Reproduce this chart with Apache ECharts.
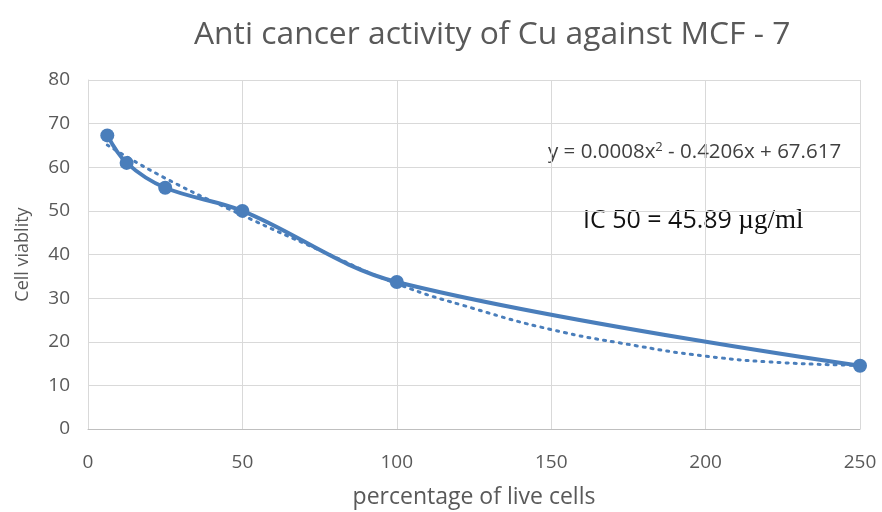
<!DOCTYPE html>
<html>
<head>
<meta charset="utf-8">
<script src="https://cdn.jsdelivr.net/npm/echarts@6/dist/echarts.min.js"></script>
<style>html,body{margin:0;padding:0;background:#fff}#c{width:882px;height:512px}</style>
</head>
<body>
<div id="c"></div>
<script>
const concentrations = [6.25, 12.5, 25, 50, 100, 250];
const viability = [67.3, 61, 55.3, 50, 33.7, 14.5];
const trendX = [6.25, 25, 50, 75, 100, 125, 150, 175, 200, 225, 250];
const trendY = [65.1, 57.5, 49, 41, 33.3, 27.6, 22.8, 19.4, 16.7, 15.2, 14.6];
const xTicks = [0, 50, 100, 150, 200, 250];
const yTicks = [0, 10, 20, 30, 40, 50, 60, 70, 80];

const chart = echarts.init(document.getElementById('c'));
const blue = '#4a7ebb';
chart.setOption({
  animation: false,
  grid: {left: 88, right: 22, top: 80, bottom: 83, containLabel: false, outerBoundsMode: 'none'},
  xAxis: {
    type: 'value', min: xTicks[0], max: xTicks[xTicks.length-1], interval: 50,
    axisLine: {show: true, lineStyle: {color: '#bfbfbf'}},
    axisTick: {show: false},
    axisLabel: {color: '#595959', fontSize: 19, fontFamily: 'Open Sans', margin: 24},
    splitLine: {show: true, lineStyle: {color: '#d9d9d9'}},
    name: 'percentage of live cells', nameLocation: 'middle', nameGap: 57,
    nameTextStyle: {color: '#595959', fontSize: 23, fontFamily: 'Open Sans'}
  },
  yAxis: {
    type: 'value', min: yTicks[0], max: yTicks[yTicks.length-1], interval: 10,
    axisLine: {show: true, lineStyle: {color: '#d9d9d9'}},
    axisTick: {show: false},
    axisLabel: {color: '#595959', fontSize: 19, fontFamily: 'Open Sans', margin: 18},
    splitLine: {show: true, lineStyle: {color: '#d9d9d9'}},
    name: 'Cell viablity', nameLocation: 'middle', nameGap: 56,
    nameTextStyle: {color: '#595959', fontSize: 18, fontFamily: 'Open Sans'}
  },
  graphic: [
    {type: 'text', left: 194, top: 19, style: {text: 'Anti cancer activity of Cu against MCF - 7', fill: '#595959', font: '31.8px "Open Sans"'}},
    {type: 'text', left: 548, top: 141, style: {rich: {a: {fill: '#404040', fontSize: 20.5, fontFamily: 'Open Sans'}, s: {fill: '#404040', fontSize: 13, fontFamily: 'Open Sans', verticalAlign: 'top', padding: [0,0,10,0]}}, text: '{a|y = 0.0008x}{s|2}{a| - 0.4206x + 67.617}'}},
    {type: 'text', left: 583, top: 207, style: {rich: {a: {fill: '#111', fontSize: 25, fontFamily: 'Open Sans'}, b: {fill: '#111', fontSize: 27, fontFamily: 'Liberation Serif'}}, text: '{a|IC 50 = 45.89 }{b|µg/ml}'}}
  ],
  series: [
    {
      type: 'line', data: trendX.map((x, i) => [x, trendY[i]]), smooth: 0.5, symbol: 'none',
      lineStyle: {color: blue, width: 3, type: [2, 6], cap: 'round'}, z: 1
    },
    {
      type: 'line', data: concentrations.map((x, i) => [x, viability[i]]), smooth: 0.35,
      symbol: 'circle', symbolSize: 14,
      lineStyle: {color: blue, width: 4}, itemStyle: {color: blue}, z: 2
    }
  ]
});
</script>
</body>
</html>
